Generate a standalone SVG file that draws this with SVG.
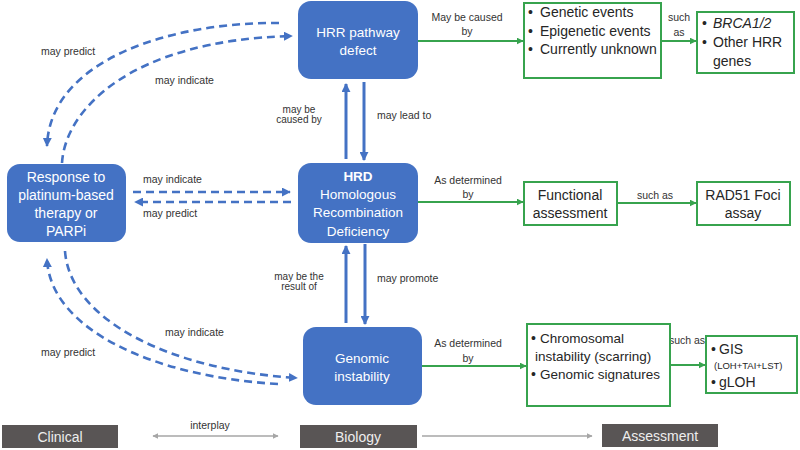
<svg xmlns="http://www.w3.org/2000/svg" width="800" height="450" viewBox="0 0 800 450">
<style>
text{font-family:"Liberation Sans",Arial,sans-serif}
.bn{fill:#4472C4}
.bt{fill:#ffffff;font-size:13.5px;text-anchor:middle}
.gb{fill:#ffffff;stroke:#37A34E;stroke-width:2}
.gt{fill:#262626;font-size:14px}
.gc{fill:#262626;font-size:14px;text-anchor:middle}
.lb{fill:#333333;font-size:10.5px}
.lc{fill:#333333;font-size:10.5px;text-anchor:middle}
.gr{fill:#595555}
.grt{fill:#eeeeee;font-size:14px;text-anchor:middle}
.sb{stroke:#4472C4;stroke-width:3;fill:none}
.db{stroke:#4472C4;stroke-width:2.6;fill:none;stroke-dasharray:8 5}
.sg{stroke:#37A34E;stroke-width:2;fill:none}
.sy{stroke:#A6A6A6;stroke-width:1.3;fill:none}
</style>
<defs>
<marker id="ab" viewBox="0 0 10 10" refX="9" refY="5" markerWidth="9" markerHeight="9" markerUnits="userSpaceOnUse" orient="auto"><path d="M0,0 L10,5 L0,10 z" fill="#4472C4"/></marker>
<marker id="ag" viewBox="0 0 10 10" refX="9" refY="5" markerWidth="7" markerHeight="7" markerUnits="userSpaceOnUse" orient="auto"><path d="M0,0 L10,5 L0,10 z" fill="#37A34E"/></marker>
<marker id="ay" viewBox="0 0 10 10" refX="9" refY="5" markerWidth="6" markerHeight="6" markerUnits="userSpaceOnUse" orient="auto-start-reverse"><path d="M0,0 L10,5 L0,10 z" fill="#A6A6A6"/></marker>
</defs>

<g id="connectors">
<path class="sb" d="M346,159 L346,84" marker-end="url(#ab)"/>
<path class="sb" d="M364,82 L364,160" marker-end="url(#ab)"/>
<path class="sb" d="M346,323 L346,246" marker-end="url(#ab)"/>
<path class="sb" d="M365,244 L365,324" marker-end="url(#ab)"/>
<path class="db" d="M133,192 L290,192" marker-end="url(#ab)"/>
<path class="db" d="M291,202 L135,202" marker-end="url(#ab)"/>
<path class="db" d="M279,23 C170,22 50,60 47,146" marker-end="url(#ab)"/>
<path class="db" d="M62,163 C65,110 130,40 292,36" marker-end="url(#ab)"/>
<path class="db" d="M278,384 C155,377 50,330 47,259" marker-end="url(#ab)"/>
<path class="db" d="M65,251 C70,320 170,370 297,378" marker-end="url(#ab)"/>
<path class="sg" d="M418,41 L523,41" marker-end="url(#ag)"/>
<path class="sg" d="M661,41 L696,41" marker-end="url(#ag)"/>
<path class="sg" d="M418,202 L523,202" marker-end="url(#ag)"/>
<path class="sg" d="M617,203 L696,203" marker-end="url(#ag)"/>
<path class="sg" d="M422,366 L526,366" marker-end="url(#ag)"/>
<path class="sg" d="M670,365 L705,365" marker-end="url(#ag)"/>
<path class="sy" d="M153,436 L278,436" marker-start="url(#ay)" marker-end="url(#ay)"/>
<path class="sy" d="M422,436 L592,436" marker-end="url(#ay)"/>
<text class="lb" x="41" y="55">may predict</text>
<text class="lb" x="155" y="84">may indicate</text>
<text class="lb" x="143" y="183">may indicate</text>
<text class="lb" x="143" y="217">may predict</text>
<text class="lc" x="299" y="113" style="font-size:10px">may be</text>
<text class="lc" x="299" y="123" style="font-size:10px">caused by</text>
<text class="lb" x="377" y="119">may lead to</text>
<text class="lc" x="299" y="280" style="font-size:10px">may be the</text>
<text class="lc" x="299" y="290" style="font-size:10px">result of</text>
<text class="lb" x="377" y="282">may promote</text>
<text class="lb" x="165" y="336">may indicate</text>
<text class="lb" x="41" y="356">may predict</text>
<text class="lc" x="467" y="21">May be caused</text>
<text class="lc" x="467" y="35">by</text>
<text class="lc" x="679" y="21">such</text>
<text class="lc" x="679" y="36">as</text>
<text class="lc" x="468" y="184">As determined</text>
<text class="lc" x="468" y="198">by</text>
<text class="lc" x="655" y="199">such as</text>
<text class="lc" x="468" y="347">As determined</text>
<text class="lc" x="468" y="362">by</text>
<text class="lc" x="687" y="344">such as</text>
<text class="lc" x="210" y="429">interplay</text>
</g>

<g id="hrr">
<rect class="bn" x="298" y="1" width="120" height="78" rx="13"/>
<text class="bt" x="358" y="37">HRR pathway</text>
<text class="bt" x="358" y="55">defect</text>
</g>
<g id="hrd">
<rect class="bn" x="298" y="163" width="120" height="80" rx="13"/>
<text class="bt" x="358" y="181" font-weight="bold">HRD</text>
<text class="bt" x="358" y="199">Homologous</text>
<text class="bt" x="358" y="217">Recombination</text>
<text class="bt" x="358" y="236">Deficiency</text>
</g>
<g id="genomic">
<rect class="bn" x="303" y="327" width="119" height="78" rx="13"/>
<text class="bt" x="362" y="363">Genomic</text>
<text class="bt" x="362" y="381">instability</text>
</g>
<g id="response">
<rect class="bn" x="7" y="164" width="119" height="78" rx="13"/>
<text class="bt" x="66" y="182" style="font-size:14px">Response to</text>
<text class="bt" x="66" y="200" style="font-size:14px">platinum-based</text>
<text class="bt" x="66" y="218" style="font-size:14px">therapy or</text>
<text class="bt" x="66" y="236" style="font-size:14px">PARPi</text>
</g>
<g id="causes">
<rect class="gb" x="524" y="3" width="137" height="75"/>
<text class="gt" x="528" y="17">•</text><text class="gt" x="540" y="17">Genetic events</text>
<text class="gt" x="528" y="36">•</text><text class="gt" x="540" y="36">Epigenetic events</text>
<text class="gt" x="528" y="54">•</text><text class="gt" x="540" y="54">Currently unknown</text>
</g>
<g id="genes">
<rect class="gb" x="697" y="12" width="97" height="61"/>
<text class="gt" x="702" y="28">•</text><text class="gt" x="713" y="28" font-style="italic">BRCA1/2</text>
<text class="gt" x="702" y="47">•</text><text class="gt" x="713" y="47">Other HRR</text>
<text class="gt" x="713" y="66">genes</text>
</g>
<g id="functional">
<rect class="gb" x="524" y="182" width="93" height="43"/>
<text class="gc" x="570" y="200">Functional</text>
<text class="gc" x="570" y="218">assessment</text>
</g>
<g id="rad51">
<rect class="gb" x="697" y="182" width="93" height="43"/>
<text class="gc" x="743" y="200">RAD51 Foci</text>
<text class="gc" x="743" y="218">assay</text>
</g>
<g id="chromosomal">
<rect class="gb" x="527" y="324" width="143" height="82"/>
<text class="gt" x="531" y="343">•</text><text class="gt" x="540" y="343" style="font-size:13.5px">Chromosomal</text>
<text class="gt" x="535" y="361" style="font-size:13.5px">instability (scarring)</text>
<text class="gt" x="531" y="379">•</text><text class="gt" x="540" y="379" style="font-size:13.5px">Genomic signatures</text>
</g>
<g id="gis">
<rect class="gb" x="706" y="336" width="91" height="57"/>
<text class="gt" x="711" y="354">•</text><text class="gt" x="719" y="354">GIS</text>
<text class="gt" x="714" y="369" style="font-size:9.5px">(LOH+TAI+LST)</text>
<text class="gt" x="711" y="387">•</text><text class="gt" x="719" y="387">gLOH</text>
</g>
<g id="clinical">
<rect class="gr" x="2" y="425" width="116" height="23"/>
<text class="grt" x="60" y="442">Clinical</text>
</g>
<g id="biology">
<rect class="gr" x="300" y="425" width="117" height="23"/>
<text class="grt" x="358" y="442">Biology</text>
</g>
<g id="assessment">
<rect class="gr" x="602" y="424" width="116" height="23"/>
<text class="grt" x="660" y="441">Assessment</text>
</g>
</svg>
